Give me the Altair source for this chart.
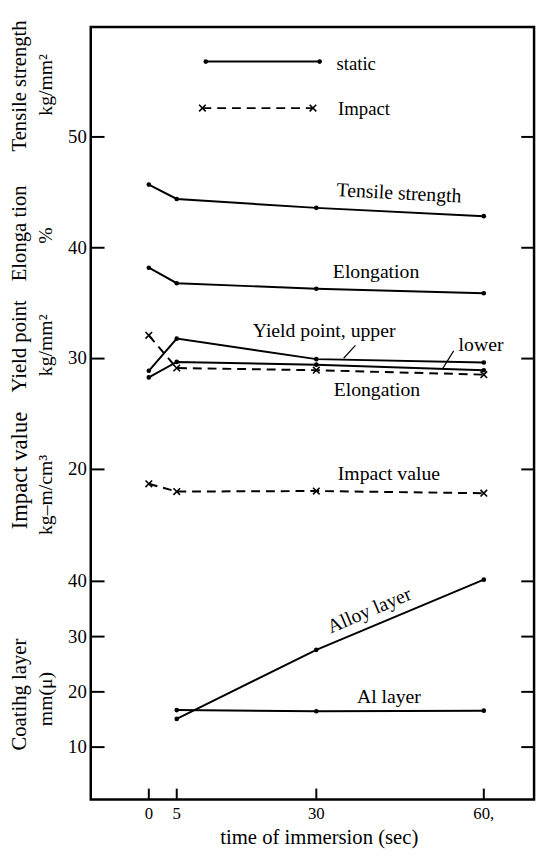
import altair as alt
import pandas as pd

FONT = "Liberation Serif"

# ---- data ----
time_main = [0, 5, 30, 60]
tensile_strength = [45.7, 44.4, 43.6, 42.85]
elongation_static = [38.2, 36.8, 36.3, 35.9]
yield_upper = [28.9, 31.8, 29.95, 29.65]
yield_lower = [28.3, 29.7, 29.45, 28.95]
elongation_impact = [32.1, 29.15, 28.95, 28.55]
impact_value = [18.7, 18.0, 18.05, 17.85]

time_coat = [5, 30, 60]
alloy_layer = [15.1, 27.6, 40.3]
al_layer = [16.7, 16.5, 16.6]

x_ticks = [0, 5, 30, 60]
x_tick_labels = ["0", "5", "30", "60,"]
upper_ticks = [20, 30, 40, 50]
lower_ticks = [10, 20, 30, 40]

legend_static_t = [10.2, 30.6]
legend_static_v = [56.8, 56.8]
legend_impact_t = [9.6, 29.4]
legend_impact_v = [52.6, 52.6]

upper_labels = ["static", "Impact", "Tensile strength", "Elongation", "Yield point, upper",
                "lower", "Elongation", "Impact value"]
upper_label_t = [33.6, 33.9, 44.8, 40.7, 31.4, 59.5, 40.85, 43.0]
upper_label_v = [56.6, 52.5, 44.9, 37.8, 32.5, 31.25, 27.2, 19.56]
upper_label_angle = [0, 0, 3, 0, 0, 0, 0, 0]
upper_label_align = ["left", "left", "center", "center", "center", "center", "center", "center"]

lower_labels = ["Alloy layer", "Al layer"]
lower_label_t = [39.5, 43.0]
lower_label_v = [34.7, 19.1]
lower_label_angle = [337, 0]

leader_upper_t = [37.0, 34.9]
leader_upper_v = [31.2, 30.03]
leader_lower_t = [54.6, 52.6]
leader_lower_v = [30.7, 29.07]

upper_titles_1 = ["Tensile  strength", "Elonga tion", "Yield  point", "Impact  value"]
upper_titles_2 = ["kg/mm²", "%", "kg/mm²", "kg–m/cm³"]
upper_titles_v1 = [54.6, 41.3, 31.1, 19.9]
upper_titles_v2 = [54.7, 41.1, 31.2, 17.7]
upper_titles_size = [21, 21, 21, 23]
lower_title_1 = ["Coatihg  layer"]
lower_title_2 = ["mm(μ)"]
lower_title_v1 = [19.5]
lower_title_v2 = [18.7]

x_title = ["time  of  immersion  (sec)"]

# ---- geometry ----
W, H = 450, 784
x_scale = alt.Scale(domain=[-10.4, 69.0], nice=False, zero=False)
up_scale = alt.Scale(domain=[-9.78, 59.91], nice=False, zero=False)
lo_scale = alt.Scale(domain=[0.53, 140.3], nice=False, zero=False)

XN = alt.X("t:Q", scale=x_scale, axis=None)
YU = alt.Y("v:Q", scale=up_scale, axis=None)
YL = alt.Y("v:Q", scale=lo_scale, axis=None)

XPATH = "M-1,-1L1,1M-1,1L1,-1"


def sdf(name, times, vals):
    return pd.DataFrame({"series": name, "t": times, "v": vals})


static_df = pd.concat([
    sdf("Tensile strength", time_main, tensile_strength),
    sdf("Elongation", time_main, elongation_static),
    sdf("Yield upper", time_main, yield_upper),
    sdf("Yield lower", time_main, yield_lower),
])
impact_df = pd.concat([
    sdf("Elongation impact", time_main, elongation_impact),
    sdf("Impact value", time_main, impact_value),
])
coat_df = pd.concat([
    sdf("Alloy layer", time_coat, alloy_layer),
    sdf("Al layer", time_coat, al_layer),
])
leg_s = sdf("static", legend_static_t, legend_static_v)
leg_i = sdf("impact", legend_impact_t, legend_impact_v)
leaders = pd.concat([
    sdf("u", leader_upper_t, leader_upper_v),
    sdf("l", leader_lower_t, leader_lower_v),
])
up_lab = pd.DataFrame({"label": upper_labels, "t": upper_label_t, "v": upper_label_v,
                       "a": upper_label_angle, "al": upper_label_align})
lo_lab = pd.DataFrame({"label": lower_labels, "t": lower_label_t, "v": lower_label_v,
                       "a": lower_label_angle})
xt_df = pd.DataFrame({"t": x_ticks, "label": x_tick_labels})
ut_df = pd.DataFrame({"v": upper_ticks, "label": [str(v) for v in upper_ticks]})
lt_df = pd.DataFrame({"v": lower_ticks, "label": [str(v) for v in lower_ticks]})
ut1 = pd.DataFrame({"label": upper_titles_1, "v": upper_titles_v1, "s": upper_titles_size})
ut2 = pd.DataFrame({"label": upper_titles_2, "v": upper_titles_v2})
lt1 = pd.DataFrame({"label": lower_title_1, "v": lower_title_v1})
lt2 = pd.DataFrame({"label": lower_title_2, "v": lower_title_v2})
xtitle_df = pd.DataFrame({"label": x_title})

# ---- upper group ----
static_lines = alt.Chart(static_df).mark_line(color="black", strokeWidth=2).encode(
    x=XN, y=YU, detail="series:N")
static_pts = alt.Chart(static_df).mark_point(filled=True, color="black", size=22, opacity=1).encode(
    x=XN, y=YU)
impact_lines = alt.Chart(impact_df).mark_line(color="black", strokeWidth=2, strokeDash=[9, 6]).encode(
    x=XN, y=YU, detail="series:N")
impact_pts = alt.Chart(impact_df).mark_point(shape=XPATH, filled=False, color="black",
                                             strokeWidth=1.6, size=45, opacity=1).encode(x=XN, y=YU)
leg_s_line = alt.Chart(leg_s).mark_line(color="black", strokeWidth=2).encode(x=XN, y=YU)
leg_s_pts = alt.Chart(leg_s).mark_point(filled=True, color="black", size=22, opacity=1).encode(x=XN, y=YU)
leg_i_line = alt.Chart(leg_i).mark_line(color="black", strokeWidth=2, strokeDash=[9, 6]).encode(x=XN, y=YU)
leg_i_pts = alt.Chart(leg_i).mark_point(shape=XPATH, filled=False, color="black",
                                        strokeWidth=1.6, size=45, opacity=1).encode(x=XN, y=YU)
leader_lines = alt.Chart(leaders).mark_line(color="black", strokeWidth=1.2).encode(
    x=XN, y=YU, detail="series:N")
up_text_c = alt.Chart(up_lab).transform_filter("datum.al == 'center'").mark_text(
    font=FONT, fontSize=20, color="black", align="center", baseline="middle").encode(
    x=XN, y=YU, text="label:N", angle=alt.Angle("a:Q", scale=None))
up_text_l = alt.Chart(up_lab).transform_filter("datum.al == 'left'").mark_text(
    font=FONT, fontSize=19, color="black", align="left", baseline="middle").encode(
    x=XN, y=YU, text="label:N")
x_tick_rules = alt.Chart(xt_df).mark_rule(color="black", strokeWidth=2).encode(
    x=XN, y=alt.value(H - 11), y2=alt.value(H))
x_tick_text = alt.Chart(xt_df).mark_text(font=FONT, fontSize=17, color="black",
                                         align="center", baseline="top").encode(
    x=XN, y=alt.value(H + 7), text="label:N")
x_title_text = alt.Chart(xtitle_df).mark_text(font=FONT, fontSize=21, color="black",
                                              align="center", baseline="alphabetic").encode(
    x=alt.value(232), y=alt.value(H + 45), text="label:N")
ut_left = alt.Chart(ut_df).mark_rule(color="black", strokeWidth=2).encode(
    y=YU, x=alt.value(0), x2=alt.value(14))
ut_right = alt.Chart(ut_df).mark_rule(color="black", strokeWidth=2).encode(
    y=YU, x=alt.value(W - 13), x2=alt.value(W))
ut_text = alt.Chart(ut_df).mark_text(font=FONT, fontSize=19, color="black",
                                     align="right", baseline="middle").encode(
    y=YU, x=alt.value(-4), text="label:N")
ut1_text = alt.Chart(ut1).mark_text(font=FONT, color="black", angle=270,
                                    align="center", baseline="middle").encode(
    y=YU, x=alt.value(-72), text="label:N", size=alt.Size("s:Q", scale=None))
ut2_text = alt.Chart(ut2).mark_text(font=FONT, fontSize=20, color="black", angle=270,
                                    align="center", baseline="middle").encode(
    y=YU, x=alt.value(-45), text="label:N")

upper = alt.layer(static_lines, static_pts, impact_lines, impact_pts, leg_s_line, leg_s_pts,
                  leg_i_line, leg_i_pts, leader_lines, up_text_c, up_text_l, x_tick_rules,
                  x_tick_text, x_title_text, ut_left, ut_right, ut_text, ut1_text, ut2_text)

# ---- lower group ----
coat_lines = alt.Chart(coat_df).mark_line(color="black", strokeWidth=2).encode(
    x=XN, y=YL, detail="series:N")
coat_pts = alt.Chart(coat_df).mark_point(filled=True, color="black", size=22, opacity=1).encode(
    x=XN, y=YL)
lo_text = alt.Chart(lo_lab).mark_text(font=FONT, fontSize=20, color="black",
                                      align="center", baseline="middle").encode(
    x=XN, y=YL, text="label:N", angle=alt.Angle("a:Q", scale=None))
lt_left = alt.Chart(lt_df).mark_rule(color="black", strokeWidth=2).encode(
    y=YL, x=alt.value(0), x2=alt.value(14))
lt_right = alt.Chart(lt_df).mark_rule(color="black", strokeWidth=2).encode(
    y=YL, x=alt.value(W - 13), x2=alt.value(W))
lt_text = alt.Chart(lt_df).mark_text(font=FONT, fontSize=19, color="black",
                                     align="right", baseline="middle").encode(
    y=YL, x=alt.value(-4), text="label:N")
lt1_text = alt.Chart(lt1).mark_text(font=FONT, fontSize=21, color="black", angle=270,
                                    align="center", baseline="middle").encode(
    y=YL, x=alt.value(-72), text="label:N")
lt2_text = alt.Chart(lt2).mark_text(font=FONT, fontSize=20, color="black", angle=270,
                                    align="center", baseline="middle").encode(
    y=YL, x=alt.value(-45), text="label:N")

lower = alt.layer(coat_lines, coat_pts, lo_text, lt_left, lt_right, lt_text, lt1_text, lt2_text)

chart = alt.layer(upper, lower).resolve_scale(y="independent").properties(
    width=W, height=H,
    autosize=alt.AutoSizeParams(type="none"),
    padding={"left": 84, "top": 13, "right": 4, "bottom": 50},
    background="white",
).configure_view(stroke="black", strokeWidth=2.5)

chart.save("out.html", embed_options={"renderer": "svg", "actions": False})
